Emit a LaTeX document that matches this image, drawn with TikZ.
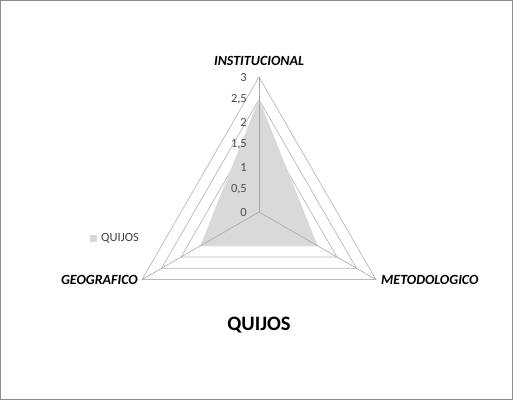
\documentclass[tikz,border=0pt]{standalone}
\usepackage{fontspec}
\setmainfont{Carlito}
\begin{document}
\begin{tikzpicture}[x=1pt,y=1pt,
  ring/.style={draw=black!28,line width=0.7pt},
  spoke/.style={draw=black!35,line width=0.6pt},
  axislab/.style={font=\fontsize{14}{14}\selectfont\bfseries\itshape,text=black,inner sep=0pt},
  ticklab/.style={font=\fontsize{12.5}{12.5}\selectfont,text=black!70,anchor=east,inner sep=0pt},
  serie/.style={fill=black!15,draw=black!12,line width=0.5pt}]
\useasboundingbox (-259,-188) rectangle (254,212);
\draw[black!45,line width=0.6pt] (-258.5,-187.5) rectangle (253.5,211.5);
% rings
\foreach \v in {0.5,1,1.5,2,2.5,3}{
  \draw[ring] (90:45*\v) -- (210:45*\v) -- (330:45*\v) -- cycle;
}
% series
\coordinate (pI) at (90:45*2.5);
\coordinate (pG) at (210:45*1.5);
\coordinate (pM) at (330:45*1.5);
\path[serie] (pI) -- (pG) -- (pM) -- cycle;
% spokes
\coordinate (c) at (0,0);
\coordinate (vI) at (90:135);
\coordinate (vG) at (210:135);
\coordinate (vM) at (330:135);
\draw[spoke] (c) -- (vI);
\draw[spoke] (c) -- (vG);
\draw[spoke] (c) -- (vM);
% tick labels
\foreach \v/\t in {0/0,0.5/{0,5},1/1,1.5/{1,5},2/2,2.5/{2,5},3/3}{
  \node[ticklab] at (-12,45*\v) {\t};
}
% axis labels
\node[axislab] (lI) at (0,151) {INSTITUCIONAL};
\node[axislab,anchor=east] (lG) at (-121,-68) {GEOGRAFICO};
\node[axislab,anchor=west] (lM) at (122,-68) {METODOLOGICO};
% title
\node[font=\fontsize{20.5}{20.5}\selectfont\bfseries,inner sep=0pt] (title) at (0,-113) {QUIJOS};
% legend
\node[fill=black!15,minimum size=7pt,inner sep=0pt] (lsq) at (-165,-26) {};
\node[font=\fontsize{12.5}{12.5}\selectfont,text=black!75,anchor=west,inner sep=0pt] (ltx) at (-158,-26) {QUIJOS};
\end{tikzpicture}
\end{document}
